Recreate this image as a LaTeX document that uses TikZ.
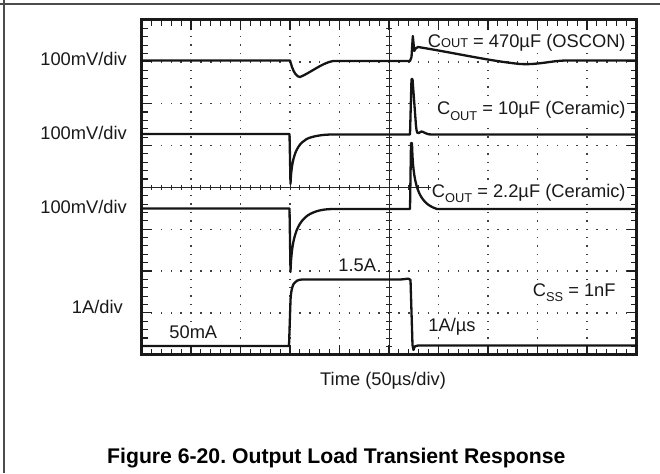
\documentclass[tikz,border=0pt]{standalone}
\usepackage{fontspec}
\setmainfont{Liberation Sans}
\frenchspacing
\newcommand\lowsub[1]{\raisebox{-5.5pt}{\fontsize{12.8}{13}\selectfont #1}}
\newcommand\smallcp[1]{{\fontsize{12.8}{13}\selectfont #1}}
\begin{document}
\begin{tikzpicture}[x=1pt,y=-1pt,
  trace/.style={line width=2.3pt, line join=round, line cap=round, black!92},
  lbl/.style={font=\fontsize{18.3}{20}\selectfont, inner sep=0pt, text=black!90},
  lblw/.style={lbl, fill=white, inner sep=1.2pt},
  ttl/.style={font=\fontsize{21.2}{23}\selectfont\bfseries, inner sep=0pt},
  gdot/.style={fill=black!75},
  cax/.style={line width=0.9pt, black!85},
  tck/.style={line width=1.1pt, black!88},
  bord/.style={line width=3pt, black!90},
  frame/.style={line width=1.3pt, black!70}]
\useasboundingbox (0,0) rectangle (660,473);
% outer frame
\draw[frame] (0,4) -- (660,4);
\draw[frame] (4,0) -- (4,473);
\def\xo{141.5}\def\yo{20}\def\dx{49.5}\def\dy{41.84}
% dotted grid: vertical
\foreach \k in {1,2,3,4,6,7,8,9}{
  \foreach \j in {1,...,39}{
    \fill[gdot] ({\xo+\k*\dx-0.7},{\yo+\j*\dy/5-0.7}) rectangle ++(1.4,1.4);
  }
}
% dotted grid: horizontal
\foreach \k in {1,2,3,5,6,7}{
  \foreach \j in {1,...,49}{
    \fill[gdot] ({\xo+\j*\dx/5-0.7},{\yo+\k*\dy-0.7}) rectangle ++(1.4,1.4);
  }
}
% center axes
\coordinate (ctop) at ({\xo+5*\dx},\yo);
\coordinate (cbot) at ({\xo+5*\dx},354.7);
\coordinate (cleft) at (\xo,{\yo+4*\dy});
\coordinate (cright) at (636.5,{\yo+4*\dy});
\draw[cax] (ctop) -- (cbot);
\draw[cax] (cleft) -- (cright);
\foreach \j in {1,...,39}{
  \draw[cax] ({\xo+5*\dx-2.6},{\yo+\j*\dy/5}) -- ++(5.2,0);
}
\foreach \j in {1,...,49}{
  \draw[cax] ({\xo+\j*\dx/5},{\yo+4*\dy-2.6}) -- ++(0,5.2);
}
% labels
\node[lbl, anchor=base east] (v1) at (127,66) {100mV/div};
\node[lbl, anchor=base east] (v2) at (127,139.3) {100mV/div};
\node[lbl, anchor=base east] (v3) at (127,213) {100mV/div};
\node[lbl, anchor=base east] (adiv) at (123,313.3) {1A/div};
\node[lblw, anchor=base west] (ma) at (168,338) {50mA};
\node[lblw, anchor=base west] (a15) at (337,271.7) {1.5A};
\node[lblw, anchor=base west] (slew) at (427,331) {1A/µs};
\node[lblw, anchor=base east] (css) at (617,296) {C\lowsub{SS} = 1nF};
\node[lblw, anchor=base east] (c1) at (627,48) {C\smallcp{OUT} = 470µF (OSCON)};
\node[lblw, anchor=base east] (c2) at (627,115) {C\lowsub{OUT} = 10µF (Ceramic)};
\node[lblw, anchor=base east] (c3) at (627,197) {C\lowsub{OUT} = 2.2µF (Ceramic)};
\node[lbl, anchor=base west] (time) at (320,385.5) {Time (50µs/div)};
\node[ttl, anchor=base west] (title) at (107,463.3) {Figure 6-20. Output Load Transient Response};
% border ticks
\foreach \j in {1,...,49}{
  \draw[tck] ({\xo+\j*\dx/5},\yo) -- ++(0,6);
  \draw[tck] ({\xo+\j*\dx/5},354.7) -- ++(0,-6);
}
\foreach \j in {1,...,39}{
  \draw[tck] (\xo,{\yo+\j*\dy/5}) -- ++(6,0);
  \draw[tck] (636.5,{\yo+\j*\dy/5}) -- ++(-6,0);
}
\foreach \k in {1,...,9}{
  \draw[tck] ({\xo+\k*\dx},\yo) -- ++(0,10);
  \draw[tck] ({\xo+\k*\dx},354.7) -- ++(0,-10);
}
\foreach \k in {1,...,7}{
  \draw[tck] (\xo,{\yo+\k*\dy}) -- ++(10,0);
  \draw[tck] (636.5,{\yo+\k*\dy}) -- ++(-10,0);
}
% border
\draw[bord] (\xo,\yo) rectangle (636.5,354.7);
% traces
\draw[trace] (\xo,60.5) -- (290,60.5) -- (292,67) .. controls (294,73) and (297,77) .. (300,77)
  .. controls (310,73) and (322,63) .. (333,61) -- (410,61) -- (411.5,57) -- (412.8,36) -- (414.3,51)
  .. controls (415,49) and (416,47.5) .. (418,47) .. controls (455,53) and (490,61) .. (520,64)
  .. controls (538,65) and (550,61) .. (565,60.5) -- (636.5,60.5);
\draw[trace] (\xo,134) -- (289.5,134) -- (290.5,184) .. controls (291.5,158) and (296,141) .. (312,137)
  .. controls (320,135) and (325,134.5) .. (335,134.5) -- (410,134.5) -- (411.5,79) -- (412.5,79) -- (416,126)
  .. controls (416.8,133) and (417.5,134.5) .. (419,133) .. controls (420,131) and (422,131) .. (425,133)
  .. controls (427,134.5) and (430,134.5) .. (433,134.5) -- (636.5,134.5);
\draw[trace] (\xo,208.5) -- (289.5,208.5) -- (290.5,272) .. controls (291.5,240) and (296,222) .. (310,214)
  .. controls (318,210) and (325,209) .. (335,209) -- (410,209) -- (411,143) -- (412,143)
  .. controls (413,185) and (418,203) .. (437,209) -- (636.5,209);
\draw[trace] (\xo,346) -- (289,346) -- (290.5,300) .. controls (291.5,284) and (294,280) .. (302,279.5)
  -- (400,279.5) .. controls (405,279.5) and (409,277.5) .. (410.5,280) -- (412.5,345) -- (413.5,350)
  .. controls (414.5,346) and (415.5,345.5) .. (418,345.5) -- (636.5,345.5);
\end{tikzpicture}
\end{document}
